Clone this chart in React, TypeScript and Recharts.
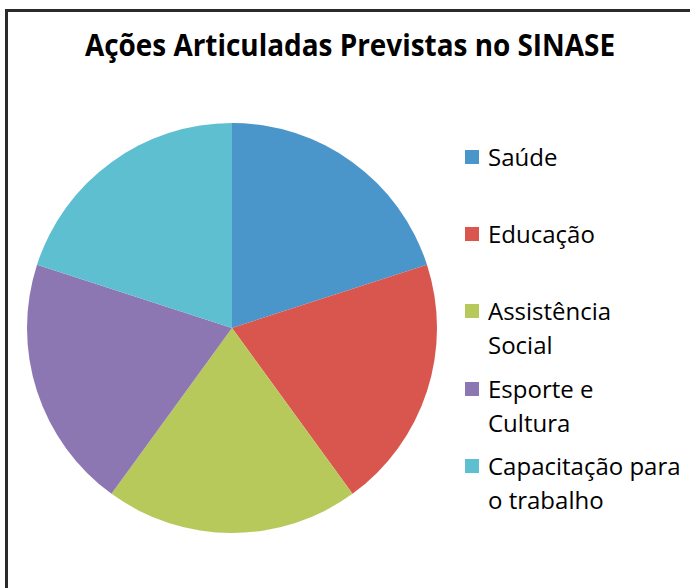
import React from 'react';
import { PieChart, Pie, Cell, Legend } from 'recharts';

const categories = ['Saúde', 'Educação', 'Assistência Social', 'Esporte e Cultura', 'Capacitação para o trabalho'];
const values = [1, 1, 1, 1, 1];
const legendLines = [['Saúde'], ['Educação'], ['Assistência', 'Social'], ['Esporte e', 'Cultura'], ['Capacitação para', 'o trabalho']];
const colors = ['#4A96CB', '#D9564F', '#B8C95C', '#8C77B3', '#5EBFD1'];
const title = 'Ações Articuladas Previstas no SINASE';

const data = categories.map((name, i) => ({ name, value: values[i] }));

const FONT = '"Open Sans", "Noto Sans", sans-serif';

// legend rows sit on a fixed pitch like the original, wrapped lines stack below
const LegendBox = () => (
  <div style={{ position: 'relative', width: 225, height: 400, fontFamily: FONT }}>
    {legendLines.map((lines, i) => (
      <div key={i} style={{ position: 'absolute', left: 0, top: i * 77.2, display: 'flex' }}>
        <div style={{ width: 14, height: 14, background: colors[i], marginTop: 10, marginRight: 9 }} />
        <div style={{ fontSize: 24, lineHeight: '34px', color: '#000' }}>
          {lines.map((l, j) => (
            <div key={j} style={{ whiteSpace: 'nowrap' }}>{l}</div>
          ))}
        </div>
      </div>
    ))}
  </div>
);

export default function App() {
  return (
    <div style={{ position: 'absolute', left: 0, top: 0, width: 690, height: 588, overflow: 'hidden', background: '#fff' }}>
      <div style={{ position: 'absolute', left: 5, top: 9, width: 720, height: 620, borderLeft: '3px solid #2b2b2b', borderTop: '3px solid #2b2b2b' }} />
      <div
        style={{
          position: 'absolute', left: 50, top: 22, width: 600, textAlign: 'center',
          fontFamily: FONT, fontWeight: 700, fontSize: 31, lineHeight: '44px', color: '#000',
          whiteSpace: 'nowrap', transform: 'scaleX(0.9)', transformOrigin: '300px 0',
        }}
      >
        {title}
      </div>
      <div style={{ position: 'absolute', left: 0, top: 0 }}>
        <PieChart width={690} height={588} margin={{ top: 0, right: 0, bottom: 0, left: 0 }}>
          <Pie
            data={data}
            dataKey="value"
            nameKey="name"
            cx={232}
            cy={328}
            outerRadius={205}
            startAngle={90}
            endAngle={-270}
            stroke="none"
            isAnimationActive={false}
          >
            {data.map((d, i) => (
              <Cell key={d.name} fill={colors[i]} />
            ))}
          </Pie>
          <Legend
            layout="vertical"
            align="right"
            verticalAlign="top"
            content={() => <LegendBox />}
            wrapperStyle={{ left: 465, top: 140, width: 225 }}
          />
        </PieChart>
      </div>
    </div>
  );
}
